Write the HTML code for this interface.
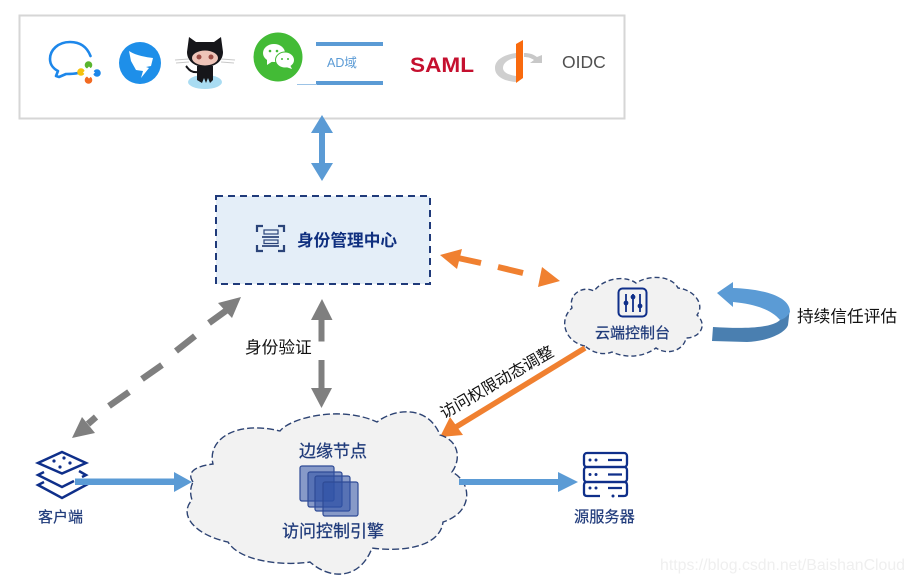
<!DOCTYPE html>
<html><head><meta charset="utf-8"><style>
html,body{margin:0;padding:0;background:#fff}
svg{display:block}
text{font-family:"Liberation Sans","Noto Sans CJK SC",sans-serif}
</style></head><body>
<svg width="914" height="583" viewBox="0 0 914 583" xmlns="http://www.w3.org/2000/svg">
<rect width="914" height="583" fill="#fff"/>
<!-- top panel -->
<rect x="19.5" y="15.5" width="605" height="103" fill="#fff" stroke="#d6d6d6" stroke-width="2"/>
<!-- chat icon -->
<path d="M90.500 56 C87 47 80 42 70 42 C58 42 50 50 50 59 C50 65 54 69 58 71 L56 76 L59 77 L66 74 C70 74 74 74 78 73" fill="none" stroke="#1d87ea" stroke-width="2.600" stroke-linejoin="round" stroke-linecap="round"/>
<circle cx="88.500" cy="65" r="3.800" fill="#5ab52e"/><circle cx="97" cy="73" r="3.800" fill="#1d87ea"/><circle cx="88.500" cy="80" r="3.800" fill="#f26a21"/><circle cx="81" cy="72" r="3.800" fill="#f4c20d"/>
<path d="M89 66.500 L95 72.500 L89 78.500 L83 72.500 Z" fill="#fff"/>
<!-- dingtalk -->
<circle cx="140" cy="63" r="21" fill="#1e8fe9"/>
<path d="M129 51 C137 56 146 57 153 58 L151 66 L146 67 L149 68 L141 78 L143 71 L136 70 L131 61 Z" fill="#fff"/>
<!-- octocat -->
<ellipse cx="205" cy="82" rx="17" ry="7" fill="#a9dcf2"/>
<path d="M189 37 L196 42 L214 42 L221 37 L223 52 C223 62 214 67 205 67 C196 67 187 62 187 52 Z" fill="#16161a"/>
<ellipse cx="205" cy="58" rx="13" ry="7.500" fill="#eec4b8"/>
<circle cx="199" cy="57" r="2.500" fill="#9a4a42"/><circle cx="211" cy="57" r="2.500" fill="#9a4a42"/>
<path d="M197 66 L213 66 L213 80 L210 83 L208 78 L206 83 L204 78 L202 83 L197 80 Z" fill="#16161a"/>
<path d="M198 72 C190 73 188 68 186 66" fill="none" stroke="#16161a" stroke-width="2"/>
<path d="M175 60 L189 59 M176 63 L189 62 M221 59 L235 60 M221 62 L234 63" stroke="#c8c8c8" stroke-width="1"/>
<!-- wechat -->
<circle cx="278" cy="57" r="24.500" fill="#43bb36"/>
<ellipse cx="274" cy="53" rx="11" ry="9" fill="#fff"/><path d="M267 59 L267 65 L273 61 Z" fill="#fff"/>
<ellipse cx="285" cy="60" rx="9.500" ry="8" fill="#fff" stroke="#43bb36"/><path d="M290 65 L292 69 L286 67 Z" fill="#fff"/>
<circle cx="270" cy="51" r="1.300" fill="#43bb36"/><circle cx="277" cy="51" r="1.300" fill="#43bb36"/><circle cx="282" cy="59" r="1" fill="#43bb36"/><circle cx="288" cy="59" r="1" fill="#43bb36"/>
<!-- AD -->
<rect x="316" y="42" width="67" height="4" fill="#5b9bd5"/>
<rect x="316" y="81" width="67" height="4" fill="#5b9bd5"/>
<rect x="297" y="84" width="20" height="1" fill="#9cc3e6"/>
<text x="327" y="67" font-size="12.500" fill="#5b9bd5">AD域</text>
<!-- SAML -->
<text x="410" y="72" font-size="21" font-weight="700" fill="#c5102f" textLength="64" lengthAdjust="spacingAndGlyphs">SAML</text>
<!-- OpenID -->
<path d="M516 53 C503 55 495 60 495 68 C495 76 503 81 516 82 L516 76 C508 75 503 72 503 68 C503 63 508 59 516 58 Z" fill="#cfcfcf"/>
<path d="M524 53 C529 53 533 54 537 57 L542 55 L542 63 L530 63 L534 60 C531 58 528 57 524 57 Z" fill="#c8c8c8"/>
<path d="M516 44 L523 40 L523 78 L516 83 Z" fill="#f96a0e"/>
<text x="562" y="68" font-size="17.500" fill="#505050">OIDC</text>
<!-- identity box -->
<rect x="216" y="196" width="214" height="88" fill="#e4eef8" stroke="#1f3a7a" stroke-width="2" stroke-dasharray="7 5"/>
<g fill="none" stroke="#2b4479" stroke-width="2.200">
<path d="M257 232 V226 H263 M278 226 H284 V232 M257 245 V251 H263 M278 251 H284 V245"/>
<path d="M262 237 H279 M262 246 H279" stroke-width="1.800"/>
<rect x="264" y="230" width="14" height="4" stroke-width="1.200"/><rect x="264" y="240" width="14" height="3.500" stroke-width="1.200"/>
</g>
<text x="297" y="246" font-size="16.700" font-weight="700" fill="#0f2f7f">身份管理中心</text>
<!-- blue double arrow -->
<path d="M322 115 L333 133 L325 133 L325 163 L333 163 L322 181 L311 163 L319 163 L319 133 L311 133 Z" fill="#5b9bd5"/>
<!-- orange dashed double -->
<g fill="#f08030">
<path d="M440 255 L462 249 L457 269 Z"/>
<path d="M560 281 L542 267 L538 287 Z"/>
</g>
<path d="M458 258 L481 263 M498 267 L523 273" stroke="#f08030" stroke-width="6" fill="none"/>
<!-- gray dashed diagonal -->
<path d="M241 297 L218 303 L232 318 Z" fill="#7f7f7f"/>
<path d="M72 438 L82 417 L95 433 Z" fill="#7f7f7f"/>
<path d="M227 310 L209 323 M195 336 L176 351 M162 365 L142 379 M129 392 L109 406 M96 417 L88 424" stroke="#7f7f7f" stroke-width="6.500" fill="none"/>
<!-- gray vertical -->
<path d="M322 299 L332.500 320 L311 320 Z" fill="#7f7f7f"/>
<path d="M321.500 408 L332 388 L311 388 Z" fill="#7f7f7f"/>
<path d="M321.500 319 V341.500 M321.500 360 V389" stroke="#7f7f7f" stroke-width="6" fill="none"/>
<text x="245" y="353" font-size="16.700" fill="#111">身份验证</text>
<!-- cloud console -->
<path d="M585 346 C565 342 558 320 572 308 C568 295 582 285 594 291 C604 278 625 275 636 283 C650 274 672 276 678 288 C695 290 705 305 697 315 C708 325 700 338 686 338 C684 350 668 356 656 348 C642 358 625 358 612 352 C602 356 592 352 585 346 Z" fill="#f2f2f2" stroke="#2d4373" stroke-width="1.400" stroke-dasharray="5 3"/>
<rect x="618.500" y="288.500" width="28" height="28" rx="4" fill="none" stroke="#0f2f8a" stroke-width="2"/>
<g stroke="#0f2f8a" stroke-width="1.800"><path d="M626 294 V312 M633 294 V312 M640 294 V312"/></g>
<g fill="#0f2f8a"><circle cx="626" cy="303" r="2.400"/><circle cx="633" cy="297" r="2.400"/><circle cx="640" cy="306" r="2.400"/></g>
<text x="595" y="338" font-size="15" fill="#1f3a7a" stroke="#1f3a7a" stroke-width=".25">云端控制台</text>
<!-- curved arrow -->
<path d="M713 327 C745 329 772 328 780 320 C785 317 788 315 789.500 312 L788 325 C786 332 770 341 747 342 L712 341 Z" fill="#4a7fb0"/>
<path d="M717 293 L733 282 L733 288 C760 289 790 295 790 312 C788 316 784 319 780 320 C772 310 755 304 733 302 L733 307 Z" fill="#5b9bd5"/>
<text x="797" y="322" font-size="16.700" fill="#111">持续信任评估</text>
<!-- orange solid arrow -->
<path d="M585 348 L456 427" stroke="#f08030" stroke-width="5.500" fill="none"/>
<path d="M440 437 L450 417 L463 435 Z" fill="#f08030"/>
<text transform="translate(444,419) rotate(-30)" font-size="16" fill="#111">访问权限动态调整</text>
<!-- big cloud -->
<path d="M193 482 C186 472 196 466 213 464 C207 440 235 420 280 431 C290 418 340 405 377 422 C395 408 428 405 440 435 C458 440 462 458 452 472 C472 482 474 512 443 522 C440 548 400 552 372 548 C360 580 330 580 310 562 C285 566 240 562 228 542 C195 535 178 515 192 500 C190 494 190 488 193 482 Z" fill="#f2f2f2" stroke="#2d4373" stroke-width="1.400" stroke-dasharray="7 3"/>
<text x="299" y="457" font-size="17" fill="#1f3a7a" stroke="#1f3a7a" stroke-width=".25">边缘节点</text>
<g stroke="#2f4b96" stroke-width="1.200" fill="#2f52a5" fill-opacity=".55">
<rect x="300" y="466" width="34" height="35" rx="2"/>
<rect x="308" y="472" width="34" height="35" rx="2"/>
<rect x="315" y="476" width="35" height="35" rx="2"/>
<rect x="323" y="482" width="35" height="34" rx="2"/>
</g>
<text x="282" y="537" font-size="17" fill="#1f3a7a" stroke="#1f3a7a" stroke-width=".25">访问控制引擎</text>
<!-- client -->
<g fill="none" stroke="#0f2f8a" stroke-width="2.500" stroke-linejoin="miter">
<path d="M62 452 L86 463 L62 473.500 L38 463 Z"/>
<path d="M44 472 L38 475 L62 487 L74 481 M79 471 L86 475 L82 477"/>
<path d="M44 482 L38 485 L62 498 L86 485 L80 482"/>
</g>
<g fill="#0f2f8a"><circle cx="54" cy="461" r="1.600"/><circle cx="64" cy="458" r="1.600"/><circle cx="70" cy="463" r="1.600"/><circle cx="60" cy="467" r="1.600"/></g>
<text x="38" y="522" font-size="15" fill="#1f3a7a" stroke="#1f3a7a" stroke-width=".2">客户端</text>
<!-- arrows -->
<path d="M75 478.500 H174 V472 L192 482 L174 492 V485 H75 Z" fill="#5b9bd5"/>
<path d="M459 479 H558 V472 L578 482 L558 492 V485 H459 Z" fill="#5b9bd5"/>
<!-- server -->
<g fill="none" stroke="#0f2f8a" stroke-width="2.300">
<rect x="584" y="453" width="43" height="14" rx="3"/>
<rect x="584" y="467" width="43" height="15" rx="3"/>
<path d="M600 496 H587 Q584 496 584 493 V485 Q584 482 587 482 H624 Q627 482 627 485 V493 Q627 496 624 496 H618"/>
<path d="M608 460 H622 M608 474.500 H622 M608 488 H622"/>
</g>
<g fill="#0f2f8a"><circle cx="590" cy="460" r="1.500"/><circle cx="596" cy="460" r="1.500"/><circle cx="590" cy="474.500" r="1.500"/><circle cx="596" cy="474.500" r="1.500"/><circle cx="590" cy="488" r="1.500"/><circle cx="596" cy="488" r="1.500"/><circle cx="613" cy="496" r="1.500"/></g>
<text x="574" y="522" font-size="15.200" fill="#1f3a7a" stroke="#1f3a7a" stroke-width=".2">源服务器</text>
<!-- watermark -->
<text x="660" y="570" font-size="16" fill="#efefef" textLength="245" lengthAdjust="spacingAndGlyphs">https://blog.csdn.net/BaishanCloud</text>
</svg>
</body></html>
